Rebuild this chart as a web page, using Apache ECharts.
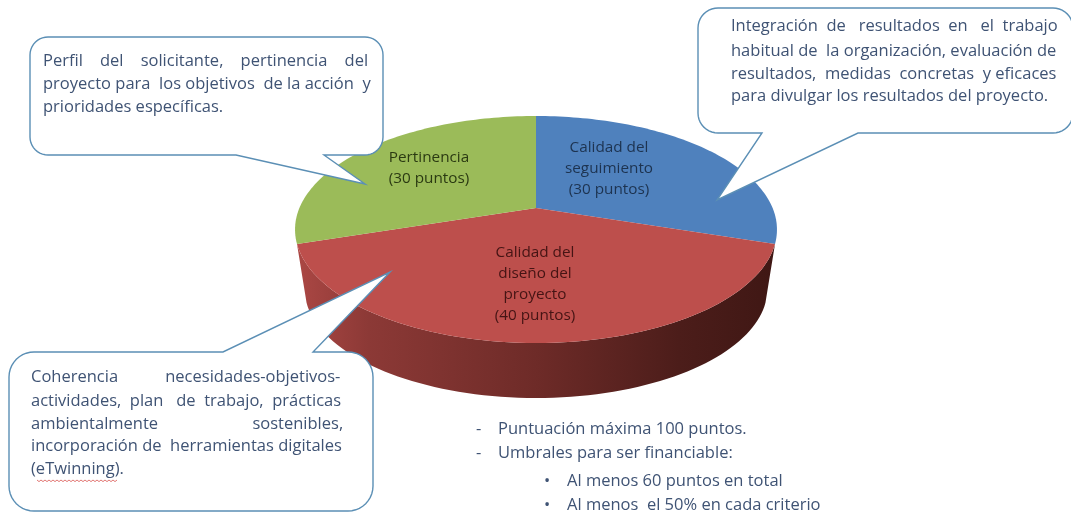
<!DOCTYPE html>
<html>
<head>
<meta charset="utf-8">
<style>
html,body{margin:0;padding:0;background:#fff;}
#main{width:1071px;height:513px;}
</style>
<script src="https://cdn.jsdelivr.net/npm/echarts@6/dist/echarts.min.js"></script>
</head>
<body>
<div id="main"></div>
<script>
// datos del grafico, en sentido horario desde arriba
var criterios = ['Calidad del seguimiento', 'Calidad del diseño del proyecto', 'Pertinencia'];
var puntos = [30, 40, 30];
var etiquetas = [
    ['Calidad del', 'seguimiento', '(30 puntos)'],
    ['Calidad del', 'diseño del', 'proyecto', '(40 puntos)'],
    ['Pertinencia', '(30 puntos)']
];
var textoPerfil = [
    'Perfil del solicitante, pertinencia del',
    'proyecto para los objetivos de la acción y',
    'prioridades específicas.'
];
var textoIntegracion = [
    'Integración de resultados en el trabajo',
    'habitual de la organización, evaluación de',
    'resultados, medidas concretas y eficaces',
    'para divulgar los resultados del proyecto.'
];
var textoCoherencia = [
    'Coherencia necesidades-objetivos-',
    'actividades, plan de trabajo, prácticas',
    'ambientalmente sostenibles,',
    'incorporación de herramientas digitales',
    '(eTwinning).'
];
var notas = ['Puntuación máxima 100 puntos.', 'Umbrales para ser financiable:'];
var subnotas = ['Al menos 60 puntos en total', 'Al menos  el 50% en cada criterio'];

var colores = ['#4f81bd', '#bd4f4c', '#9bbb59'];
var coloresTexto = ['#1d3350', '#451414', '#2b3a12'];
var FONT = '"Open Sans"';
var COLOR_TEXTO = '#3f5374';
var COLOR_BORDE = '#5b8fb5';

var total = puntos.reduce(function (a, b) { return a + b; }, 0);

// el disco en perspectiva: circulo unidad -> pantalla
function disco(ang, bajo) {
    var u = Math.sin(ang), v = -Math.cos(ang);
    var w = 1 - 0.1894 * v;
    var x = 236.6 * u / w, y = 109.4 * v / w;
    if (bajo) {
        return [536 + 0.96 * x, 268.4 + 0.96 * y];
    }
    return [536 + x, 208 + y];
}
function arco(a0, a1, bajo) {
    var pts = [];
    var n = 80;
    for (var i = 0; i <= n; i++) {
        pts.push(disco(a0 + (a1 - a0) * i / n, bajo));
    }
    return pts;
}
function rangoDe(idx) {
    var acum = 0;
    for (var i = 0; i < idx; i++) acum += puntos[i];
    return [acum / total * Math.PI * 2, (acum + puntos[idx]) / total * Math.PI * 2];
}

function caraSuperior(params, api) {
    var i = params.dataIndex;
    api.value(0);
    var r = rangoDe(i);
    var pos = posEtiquetas[i];
    var hijos = [{
        type: 'polygon',
        shape: { points: [[536, 208]].concat(arco(r[0], r[1], false)) },
        style: { fill: colores[i] }
    }];
    etiquetas[i].forEach(function (linea, k) {
        hijos.push({
            type: 'text',
            style: {
                text: linea, x: pos[0], y: pos[1] + k * pos[2],
                fill: coloresTexto[i], font: '15.3px ' + FONT,
                textAlign: 'center', textVerticalAlign: 'middle'
            }
        });
    });
    return { type: 'group', children: hijos };
}
function caraLateral(params, api) {
    var r = rangoDe(params.dataIndex);
    api.value(0);
    // solo el sector que pasa por delante
    if (r[0] > Math.PI || r[1] < Math.PI) return null;
    var pts = arco(r[0], r[1], false).concat(arco(r[1], r[0], true));
    return {
        type: 'polygon',
        shape: { points: pts },
        style: {
            fill: new echarts.graphic.LinearGradient(0, 0, 1, 0, [
                { offset: 0, color: '#ab4744' },
                { offset: 0.15, color: '#8c3936' },
                { offset: 0.5, color: '#6e2b28' },
                { offset: 0.8, color: '#4c1d1a' },
                { offset: 1, color: '#3f1714' }
            ])
        }
    };
}
// x, y de la primera linea y salto de linea
var posEtiquetas = [[609, 148, 21], [535, 253, 21], [429, 158, 20.5]];

var ctx = document.createElement('canvas').getContext('2d');

// justifica repartiendo espacios, como el texto original
function justificar(linea, ancho, tam) {
    ctx.font = tam + 'px ' + FONT;
    var palabras = linea.split(' ');
    if (palabras.length < 2) return linea;
    var sobra = ancho - ctx.measureText(palabras.join('')).width;
    var esp = ctx.measureText(' ').width;
    var huecos = palabras.length - 1;
    var res = palabras[0], puesto = 0;
    for (var i = 1; i <= huecos; i++) {
        var n = Math.max(1, Math.round((sobra * i / huecos - puesto) / esp));
        puesto += n * esp;
        res += new Array(n + 1).join(' ') + palabras[i];
    }
    return res;
}

// rectangulo redondeado con la punta del globo
function globo(x0, y0, x1, y1, rad, punta, lado) {
    var pts = [];
    function esquina(cx, cy, a0) {
        for (var i = 0; i <= 10; i++) {
            var a = a0 + i / 10 * Math.PI / 2;
            pts.push([cx + rad * Math.cos(a), cy + rad * Math.sin(a)]);
        }
    }
    esquina(x0 + rad, y0 + rad, Math.PI);
    if (lado === 'arriba') pts = pts.concat(punta);
    esquina(x1 - rad, y0 + rad, -Math.PI / 2);
    esquina(x1 - rad, y1 - rad, 0);
    if (lado === 'abajo') pts = pts.concat(punta);
    esquina(x0 + rad, y1 - rad, Math.PI / 2);
    return {
        type: 'polygon',
        shape: { points: pts },
        style: { fill: '#fff', stroke: COLOR_BORDE, lineWidth: 1.4 }
    };
}
function linea(txt, x, y, tam) {
    return {
        type: 'text',
        style: {
            text: txt, x: x, y: y, fill: COLOR_TEXTO, font: tam + 'px ' + FONT,
            textVerticalAlign: 'middle'
        }
    };
}
function parrafo(lineas, x, ancho, ys, ultimas, tam) {
    return lineas.map(function (t, i) {
        var txt = ultimas.indexOf(i) >= 0 ? t : justificar(t, ancho, tam);
        return linea(txt, x, ys[i], tam);
    });
}

var elementos = [
    globo(30, 37, 383, 155, 18, [[324, 155], [365, 184], [236, 155]], 'abajo'),
    globo(698, 8, 1073, 133, 20, [[858, 133], [717, 200], [762, 133]], 'abajo'),
    globo(9, 352, 373, 511, 25, [[223, 352], [390, 272], [313, 352]], 'arriba')
];
elementos = elementos
    .concat(parrafo(textoPerfil, 43, 327, [61, 84, 107], [2], 16.5))
    .concat(parrafo(textoIntegracion, 731, 327, [26, 51, 74, 96], [3], 16.5))
    .concat(parrafo(textoCoherencia, 31, 311, [377, 401, 424, 446, 469], [4], 16.5));

// subrayado rojo de eTwinning
var onda = [];
for (var xo = 0; xo <= 40; xo++) {
    onda.push([37 + xo * 2, 480 + (xo % 2) * 1.6]);
}
elementos.push({
    type: 'polyline',
    shape: { points: onda },
    style: { stroke: '#d9534f', lineWidth: 0.8, fill: null }
});

notas.forEach(function (t, i) {
    var y = 429 + i * 24;
    elementos.push(linea('-', 476, y, 16.5));
    elementos.push(linea(t, 498, y, 16.5));
});
subnotas.forEach(function (t, i) {
    var y = 481 + i * 24;
    elementos.push(linea('•', 544, y, 16.5));
    elementos.push(linea(t, 567, y, 16.5));
});

var myChart = echarts.init(document.getElementById('main'));
var option = {
    animation: false,
    backgroundColor: '#fff',
    series: [{
        type: 'custom',
        coordinateSystem: 'none',
        renderItem: caraLateral,
        data: puntos,
        silent: true,
        z: 1
    }, {
        type: 'custom',
        coordinateSystem: 'none',
        renderItem: caraSuperior,
        data: puntos.map(function (p, i) { return { name: criterios[i], value: p }; }),
        silent: true,
        z: 2
    }],
    graphic: { elements: elementos.map(function (e) { e.z = 10; return e; }) }
};
myChart.setOption(option);
</script>
</body>
</html>
